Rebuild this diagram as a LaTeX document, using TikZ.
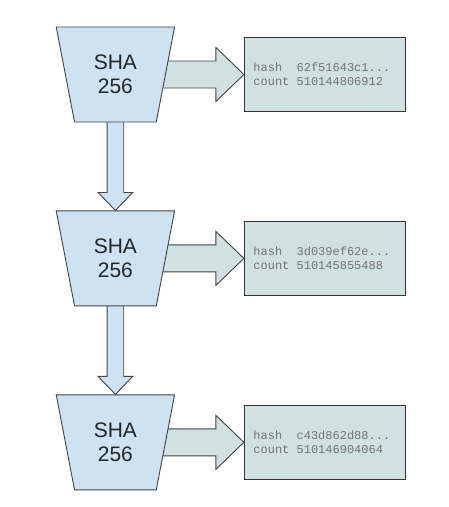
\documentclass[tikz,border=0pt]{standalone}
\usepackage{fontspec}
\setmainfont{Liberation Sans}
\setmonofont{Liberation Mono}
\usetikzlibrary{shapes.geometric,positioning,calc,backgrounds}

\definecolor{hashblue}{HTML}{CFE2F3}
\definecolor{outcyan}{HTML}{D0E0E3}
\definecolor{edgegray}{HTML}{434343}
\definecolor{textgray}{HTML}{747474}

\begin{document}
\begin{tikzpicture}[x=1pt, y=-1pt,
    hasher/.style={trapezium, shape border rotate=180, trapezium stretches=true, trapezium angle=76,
        minimum width=119pt, minimum height=95pt, inner sep=0pt, draw=edgegray, fill=hashblue,
        line width=0.9pt, align=center, font=\fontsize{21}{24}\selectfont, text=black!85},
    result/.style={draw=black!80, fill=outcyan, line width=1.1pt, text width=143pt, inner xsep=9pt,
        minimum height=74pt, align=left, font=\fontsize{12}{13.7}\ttfamily\selectfont, text=textgray},
    outarrow/.style={draw=edgegray, fill=outcyan, line width=0.9pt, line join=miter},
    downarrow/.style={draw=edgegray, fill=hashblue, line width=0.9pt, line join=miter}
]
    \useasboundingbox (0,0) rectangle (449,507);

    % Hash stages
    \node[hasher] (h1) at (115.4,74.5) {SHA\\256};
    \node[hasher, below=88pt of h1] (h2) {SHA\\256};
    \node[hasher, below=88pt of h2] (h3) {SHA\\256};

    % Outputs of each stage
    \node[result, right=78pt of h1] (b1) {hash\hphantom{hh}62f51643c1...\\count\hphantom{h}510144806912};
    \node[result, right=78pt of h2] (b2) {hash\hphantom{hh}3d039ef62e...\\count\hphantom{h}510145855488};
    \node[result, right=78pt of h3] (b3) {hash\hphantom{hh}c43d862d88...\\count\hphantom{h}510146904064};

    \begin{pgfonlayer}{background}
        % Fat arrows into the output boxes (start behind the trapezoids)
        \draw[outarrow] ($(h1.center)+(0,-13.5)$) -- ($(b1.west)+(-28,-13.5)$) -- ($(b1.west)+(-28,-27)$)
            -- (b1.west) -- ($(b1.west)+(-28,27)$) -- ($(b1.west)+(-28,13.5)$) -- ($(h1.center)+(0,13.5)$) -- cycle;
        \draw[outarrow] ($(h2.center)+(0,-13.5)$) -- ($(b2.west)+(-28,-13.5)$) -- ($(b2.west)+(-28,-27)$)
            -- (b2.west) -- ($(b2.west)+(-28,27)$) -- ($(b2.west)+(-28,13.5)$) -- ($(h2.center)+(0,13.5)$) -- cycle;
        \draw[outarrow] ($(h3.center)+(0,-13.5)$) -- ($(b3.west)+(-28,-13.5)$) -- ($(b3.west)+(-28,-27)$)
            -- (b3.west) -- ($(b3.west)+(-28,27)$) -- ($(b3.west)+(-28,13.5)$) -- ($(h3.center)+(0,13.5)$) -- cycle;

        % Fat arrows down the chain
        \draw[downarrow] ($(h1.center)+(-8.3,0)$) -- ($(h2.north)+(-8.3,-18)$) -- ($(h2.north)+(-17.3,-18)$)
            -- (h2.north) -- ($(h2.north)+(17.3,-18)$) -- ($(h2.north)+(8.3,-18)$) -- ($(h1.center)+(8.3,0)$) -- cycle;
        \draw[downarrow] ($(h2.center)+(-8.3,0)$) -- ($(h3.north)+(-8.3,-18)$) -- ($(h3.north)+(-17.3,-18)$)
            -- (h3.north) -- ($(h3.north)+(17.3,-18)$) -- ($(h3.north)+(8.3,-18)$) -- ($(h2.center)+(8.3,0)$) -- cycle;
    \end{pgfonlayer}

\end{tikzpicture}
\end{document}
